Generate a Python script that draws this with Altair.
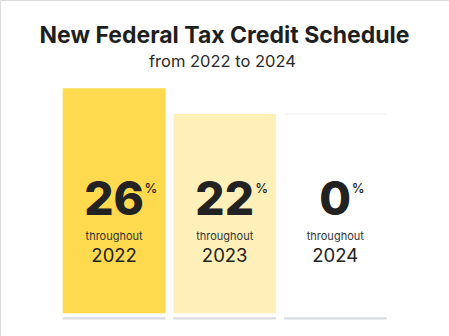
import altair as alt
import pandas as pd

years = ["2022", "2023", "2024"]
rates = [26, 22, 0]
bar_heights = [100, 88.6, 88.6]
fills = ["#FFD94E", "#FFF0BA", "#FFFFFF"]
caption = ["throughout", "throughout", "throughout"]

title_text = "New Federal Tax Credit Schedule"
subtitle_text = "from 2022 to 2024"

df = pd.DataFrame({
    "year": years,
    "rate": rates,
    "bar_height": bar_heights,
    "fill": fills,
    "caption": caption,
})

FONT = "Inter"
DARK = "#222222"

x = alt.X("year:N", axis=None, sort=years,
          scale=alt.Scale(range=[62.7, 386.7], paddingInner=0.07, paddingOuter=0))
yscale = alt.Scale(domain=[0, 100], range=[313.3, 88.3])

base = alt.Chart(df)

bars = base.mark_bar(cornerRadius=0).encode(
    x=x,
    y=alt.Y("bar_height:Q", axis=None, scale=yscale),
    y2=alt.datum(0),
    color=alt.Color("fill:N", scale=None),
)

top_line = base.transform_filter("datum.fill == '#FFFFFF'").mark_tick(
    orient="horizontal", size=102.9, thickness=1, color="#ECECEC"
).encode(
    x=x,
    y=alt.Y("bar_height:Q", axis=None, scale=yscale),
)

baseline = base.mark_rect(color="#D9DCE0").encode(
    x=x,
    y=alt.value(317.3),
    y2=alt.value(319.4),
)

number = base.mark_text(
    font=FONT, fontSize=46, fontWeight=800, color=DARK, align="center", baseline="alphabetic"
).encode(
    x=x,
    y=alt.value(215),
    text=alt.Text("rate:Q"),
)

pct_base = base.transform_calculate(sym="'%'")
pct_two = pct_base.transform_filter("datum.rate >= 10").mark_text(
    font=FONT, fontSize=13, fontWeight=500, color=DARK, align="left",
    baseline="alphabetic", dx=30.5
).encode(x=x, y=alt.value(193.3), text="sym:N")
pct_one = pct_base.transform_filter("datum.rate < 10").mark_text(
    font=FONT, fontSize=13, fontWeight=500, color=DARK, align="left",
    baseline="alphabetic", dx=16.5
).encode(x=x, y=alt.value(193.3), text="sym:N")

through = base.mark_text(
    font=FONT, fontSize=11, color="#333333", align="center", baseline="alphabetic"
).encode(
    x=x,
    y=alt.value(239.5),
    text="caption:N",
)

yr = base.mark_text(
    font=FONT, fontSize=18.5, color=DARK, align="center", baseline="alphabetic"
).encode(
    x=x,
    y=alt.value(261.7),
    text="year:N",
)

title = alt.Chart(pd.DataFrame({"t": [title_text]})).mark_text(
    font=FONT, fontSize=23, fontWeight=700, color="#1F1F1F", align="center", baseline="alphabetic"
).encode(x=alt.value(224.5), y=alt.value(42.5), text="t:N")

subtitle = alt.Chart(pd.DataFrame({"t": [subtitle_text]})).mark_text(
    font=FONT, fontSize=16.5, color="#2A2A2A", align="center", baseline="alphabetic"
).encode(x=alt.value(222.5), y=alt.value(66.7), text="t:N")

chart = alt.layer(
    bars, top_line, baseline, number, pct_two, pct_one, through, yr, title, subtitle
).properties(
    width=449, height=336, padding=0, autosize=alt.AutoSizeParams(type="none")
).configure_view(stroke=None).configure(background="#FFFFFF")

chart.save("out.html", embed_options={"renderer": "svg", "actions": False})
